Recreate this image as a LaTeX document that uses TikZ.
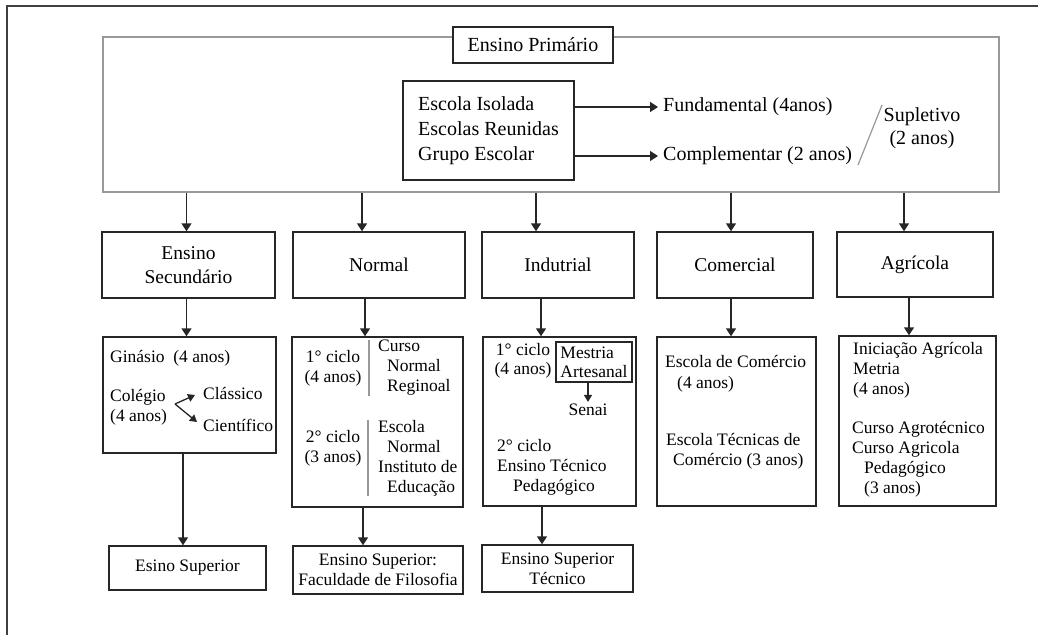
\documentclass[tikz,border=0pt]{standalone}
\usepackage{fontspec}
\setmainfont{Liberation Serif}
\usetikzlibrary{positioning,arrows.meta}

\begin{document}
\begin{tikzpicture}[x=1pt, y=-1pt,
    box/.style={draw=black!85, line width=1.4pt, fill=white, inner sep=0pt},
    catbox/.style={box, font=\fontsize{19.5}{24}\selectfont, align=center},
    endbox/.style={box, font=\fontsize{17.5}{20}\selectfont, align=center},
    ptext/.style={inner sep=0pt, font=\fontsize{20}{25}\selectfont, align=left},
    dtext/.style={inner sep=0pt, font=\fontsize{17.5}{20}\selectfont, align=left},
    arrow/.style={-{Triangle[length=8pt, width=10pt]}, line width=1.4pt, draw=black!85},
    small arrow/.style={-{Triangle[length=7pt, width=8pt]}, line width=1.3pt, draw=black!85},
    sep/.style={draw=black!40, line width=1.2pt},
]
\useasboundingbox (0,0) rectangle (1038,635);
\draw[black!75, line width=2pt] (7,635) -- (7,6) -- (1038,6);

% Ensino Primario
\node[box, draw=black!40, line width=1.5pt, minimum width=896pt, minimum height=155pt] (prim) at (551,114.5) {};
\node[box, ptext, minimum width=160pt, minimum height=36pt] (ptitle) at (533,45) {Ensino Primário};
\node[box, ptext, minimum width=171pt, minimum height=99pt] (escolas) at (488.5,130.5) {Escola Isolada\\Escolas Reunidas\\Grupo Escolar};
\node[ptext, anchor=west] (fund) at (663,107) {Fundamental (4anos)};
\node[ptext, anchor=west] (comp) at (663,156) {Complementar (2 anos)};
\node[ptext, align=center, font=\fontsize{20}{23}\selectfont] (sup) at (922,128) {Supletivo\\(2 anos)};

\draw[arrow] (escolas.east |- fund.west) -- ([xshift=-5pt]fund.west);
\draw[arrow] (escolas.east |- comp.west) -- ([xshift=-5pt]comp.west);
\draw[sep] (858,165) -- (882,105);

% Ramos
\node[catbox, minimum width=173pt, minimum height=66pt] (sec) at (188.5,265) {Ensino\\Secundário};
\node[catbox, minimum width=172pt, minimum height=66pt] (nor) at (379,265) {Normal};
\node[catbox, minimum width=152pt, minimum height=66pt] (ind) at (558,265) {Indutrial};
\node[catbox, minimum width=156pt, minimum height=66pt] (com) at (735,265) {Comercial};
\node[catbox, minimum width=156pt, minimum height=65pt] (agr) at (915,264.5) {Agrícola};

\draw[arrow] ([xshift=-2pt]sec.north |- prim.south) -- ([xshift=-2pt]sec.north);
\draw[arrow] ([xshift=-17pt]nor.north |- prim.south) -- ([xshift=-17pt]nor.north);
\draw[arrow] ([xshift=-22pt]ind.north |- prim.south) -- ([xshift=-22pt]ind.north);
\draw[arrow] ([xshift=-4pt]com.north |- prim.south) -- ([xshift=-4pt]com.north);
\draw[arrow] ([xshift=-11pt]agr.north |- prim.south) -- ([xshift=-11pt]agr.north);

% Cursos
\node[box, minimum width=173pt, minimum height=116pt] (dsec) at (189.5,395) {};
\node[box, minimum width=171pt, minimum height=170pt] (dnor) at (377.5,422) {};
\node[box, minimum width=153pt, minimum height=169pt] (dind) at (559.5,421.5) {};
\node[box, minimum width=159pt, minimum height=169pt] (dcom) at (736.5,421.5) {};
\node[box, minimum width=157pt, minimum height=170pt] (dagr) at (917.5,421) {};

\draw[arrow] ([xshift=-2pt]sec.south) -- ([xshift=-2pt]sec.south |- dsec.north);
\draw[arrow] ([xshift=-14pt]nor.south) -- ([xshift=-14pt]nor.south |- dnor.north);
\draw[arrow] ([xshift=-17pt]ind.south) -- ([xshift=-17pt]ind.south |- dind.north);
\draw[arrow] ([xshift=-4pt]com.south) -- ([xshift=-4pt]com.south |- dcom.north);
\draw[arrow] ([xshift=-6pt]agr.south) -- ([xshift=-6pt]agr.south |- dagr.north);

% Secundario
\node[dtext, anchor=west] (gin) at (110,358) {Ginásio\ \ (4 anos)};
\node[dtext, anchor=west] (col) at (110,407.5) {Colégio\\(4 anos)};
\node[dtext, anchor=west] (cla) at (203,393) {Clássico};
\node[dtext, anchor=west] (cie) at (203,425) {Científico};
\coordinate (fork) at (175,404);
\draw[small arrow] (fork) -- ([xshift=-8pt,yshift=-2pt]cla.west);
\draw[small arrow] (fork) -- ([xshift=-6pt,yshift=3pt]cie.west);

% Normal
\node[dtext, align=center] (n1) at (333,368) {1° ciclo\\(4 anos)};
\node[dtext, anchor=west] (cur) at (378,368) {Curso\\\hspace*{9pt}Normal\\\hspace*{9pt}Reginoal};
\node[dtext, align=center] (n2) at (333,448) {2° ciclo\\(3 anos)};
\node[dtext, anchor=west] (esc) at (378,458) {Escola\\\hspace*{9pt}Normal\\Instituto de\\\hspace*{9pt}Educação};
\draw[sep] ([xshift=-9pt]cur.north west) -- ([xshift=-9pt]cur.south west);
\draw[sep] ([xshift=-10pt]esc.north west) -- ([xshift=-10pt]esc.south west);

% Industrial
\node[dtext, align=center, font=\fontsize{17.5}{19}\selectfont] (i1) at (523,360.5) {1° ciclo\\(4 anos)};
\node[box, dtext, align=left, font=\fontsize{17.5}{19}\selectfont, line width=1.2pt, minimum width=76pt, minimum height=40pt] (mest) at (594,362) {Mestria\\Artesanal};
\node[dtext, inner sep=2pt] (senai) at (588,410) {Senai};
\draw[small arrow] ([xshift=-6pt]mest.south) -- ([xshift=-6pt]mest.south |- senai.north);
\node[dtext, anchor=west] (i2) at (497,467) {2° ciclo\\Ensino Técnico\\\hspace*{16pt}Pedagógico};

% Comercial
\node[dtext, anchor=west, font=\fontsize{17.5}{21}\selectfont] (c1) at (665,374) {Escola de Comércio\\\hspace*{12pt}(4 anos)};
\node[dtext, anchor=west] (c2) at (666,451.5) {Escola Técnicas de\\\hspace*{7pt}Comércio (3 anos)};

% Agricola
\node[dtext, anchor=west] (a1) at (853,370.5) {Iniciação Agrícola\\Metria\\(4 anos)};
\node[dtext, anchor=west] (a2) at (852,459) {Curso Agrotécnico\\Curso Agricola\\\hspace*{12pt}Pedagógico\\\hspace*{12pt}(3 anos)};

% Ensino superior
\node[endbox, minimum width=157pt, minimum height=44pt] (ssec) at (187.5,568) {Esino Superior};
\node[endbox, minimum width=170pt, minimum height=48pt] (snor) at (378,570) {Ensino Superior:\\Faculdade de Filosofia};
\node[endbox, minimum width=151pt, minimum height=47pt] (sind) at (557.5,568.5) {Ensino Superior\\Técnico};

\draw[arrow] ([xshift=-6.5pt]dsec.south) -- ([xshift=-6.5pt]dsec.south |- ssec.north);
\draw[arrow] ([xshift=-14.5pt]dnor.south) -- ([xshift=-14.5pt]dnor.south |- snor.north);
\draw[arrow] ([xshift=-17.5pt]dind.south) -- ([xshift=-17.5pt]dind.south |- sind.north);
\end{tikzpicture}
\end{document}
